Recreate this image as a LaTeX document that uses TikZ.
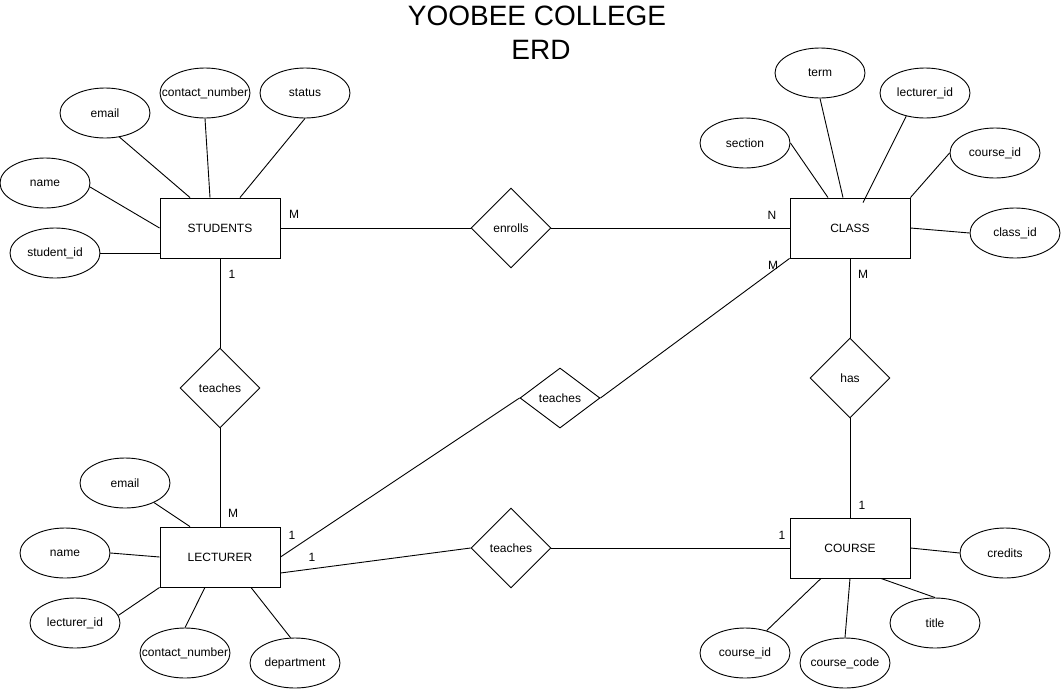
\documentclass[tikz,border=0pt]{standalone}
\usepackage{fontspec}
\setmainfont{Liberation Sans}
\usetikzlibrary{shapes.geometric,calc}
\begin{document}
\begin{tikzpicture}[x=1pt,y=-1pt,
  lbl/.style={font=\fontsize{12}{14}\selectfont},
  ent/.style={draw, rectangle, minimum width=120pt, minimum height=60pt, inner sep=0pt, line width=0.9pt, lbl},
  attr/.style={draw, ellipse, minimum width=90pt, minimum height=50pt, inner sep=0pt, line width=0.9pt, lbl},
  rel/.style={draw, diamond, minimum width=80pt, minimum height=80pt, inner sep=0pt, line width=0.9pt, lbl},
  card/.style={inner sep=0pt, lbl},
  conn/.style={line width=0.9pt},
  ttl/.style={inner sep=0pt, font=\fontsize{28}{33}\selectfont}]
\useasboundingbox (0,0) rectangle (1061,689);

% title
\node[ttl] (title1) at (537,16) {YOOBEE COLLEGE};
\node[ttl] (title2) at (541,50) {ERD};

% entities
\node[ent] (stu) at (220,228) {STUDENTS};
\node[ent] (cls) at (850,228) {CLASS};
\node[ent] (lect) at (220,557) {LECTURER};
\node[ent] (crs) at (850,548) {COURSE};

% relationships
\node[rel] (enr) at (511,228) {enrolls};
\node[rel] (t1) at (220,388) {teaches};
\node[rel, minimum height=60pt] (t2) at (560,398) {teaches};
\node[rel] (has) at (850,378) {has};
\node[rel] (t3) at (511,548) {teaches};

% STUDENTS attributes
\node[attr] (semail) at (105,113) {\makebox[0pt]{email}};
\node[attr] (scontact) at (205,93) {\makebox[0pt]{contact\_number}};
\node[attr] (sstatus) at (305,93) {\makebox[0pt]{status}};
\node[attr] (sname) at (45,183) {\makebox[0pt]{name}};
\node[attr] (sid) at (55,253) {\makebox[0pt]{student\_id}};

% CLASS attributes
\node[attr] (csection) at (745,143) {\makebox[0pt]{section}};
\node[attr] (cterm) at (820,73) {\makebox[0pt]{term}};
\node[attr] (clect) at (925,93) {\makebox[0pt]{lecturer\_id}};
\node[attr] (ccourse) at (995,153) {\makebox[0pt]{course\_id}};
\node[attr] (cid) at (1015,233) {\makebox[0pt]{class\_id}};

% LECTURER attributes
\node[attr] (lemail) at (125,483) {\makebox[0pt]{email}};
\node[attr] (lname) at (65,553) {\makebox[0pt]{name}};
\node[attr] (llid) at (75,623) {\makebox[0pt]{lecturer\_id}};
\node[attr] (lcontact) at (185,653) {\makebox[0pt]{contact\_number}};
\node[attr] (ldept) at (295,663) {\makebox[0pt]{department}};

% COURSE attributes
\node[attr] (credits) at (1005,553) {\makebox[0pt]{credits}};
\node[attr] (title) at (935,623) {\makebox[0pt]{title}};
\node[attr] (ccode) at (845,663) {\makebox[0pt]{course\_code}};
\node[attr] (crsid) at (745,653) {\makebox[0pt]{course\_id}};

% attribute connectors
\draw[conn] (semail.-59) -- ($(stu.north)+(-30,0)$);
\draw[conn] (scontact.south) -- ($(stu.north)+(-10,0)$);
\draw[conn] (sstatus.south) -- ($(stu.north)+(20,0)$);
\draw[conn] (sname.-5) -- (stu.west);
\draw[conn] (sid.east) -- ($(stu.west)+(0,25)$);

\draw[conn] (csection.east) -- ($(cls.north)+(-22,0)$);
\draw[conn] (cterm.south) -- ($(cls.north)+(-7,0)$);
\draw[conn] (clect.-129) -- ($(cls.north)+(13,5)$);
\draw[conn] (ccourse.west) -- (cls.north east);
\draw[conn] (cid.west) -- (cls.east);

\draw[conn] (lemail.-34) -- ($(lect.north)+(-30,0)$);
\draw[conn] (lname.east) -- (lect.west);
\draw[conn] (llid.10) -- (lect.south west);
\draw[conn] (lcontact.north) -- ($(lect.south)+(-15,0)$);
\draw[conn] (ldept.100) -- ($(lect.south)+(31,0)$);

\draw[conn] (credits.west) -- (crs.east);
\draw[conn] (title.north) -- ($(crs.south)+(31,0)$);
\draw[conn] (ccode.north) -- (crs.south);
\draw[conn] (crsid.46) -- ($(crs.south)+(-29,0)$);

% relationship connectors
\draw[conn] (stu.east) -- (enr.west);
\draw[conn] (enr.east) -- (cls.west);
\draw[conn] (stu.south) -- (t1.north);
\draw[conn] (t1.south) -- (lect.north);
\draw[conn] (lect.east) -- (t2.west);
\draw[conn] (t2.east) -- (cls.south west);
\draw[conn] (cls.south) -- (has.north);
\draw[conn] (has.south) -- (crs.north);
\draw[conn] ($(lect.east)+(0,16)$) -- (t3.west);
\draw[conn] (t3.east) -- (crs.west);

% cardinalities
\node[card] (c1) at (294,214) {M};
\node[card] (c2) at (232,274) {1};
\node[card] (c3) at (772,215) {N};
\node[card] (c4) at (773,265) {M};
\node[card] (c5) at (863,274) {M};
\node[card] (c6) at (233,513) {M};
\node[card] (c7) at (292,535) {1};
\node[card] (c8) at (312,557) {1};
\node[card] (c9) at (862,505) {1};
\node[card] (c10) at (782,535) {1};
\end{tikzpicture}
\end{document}
